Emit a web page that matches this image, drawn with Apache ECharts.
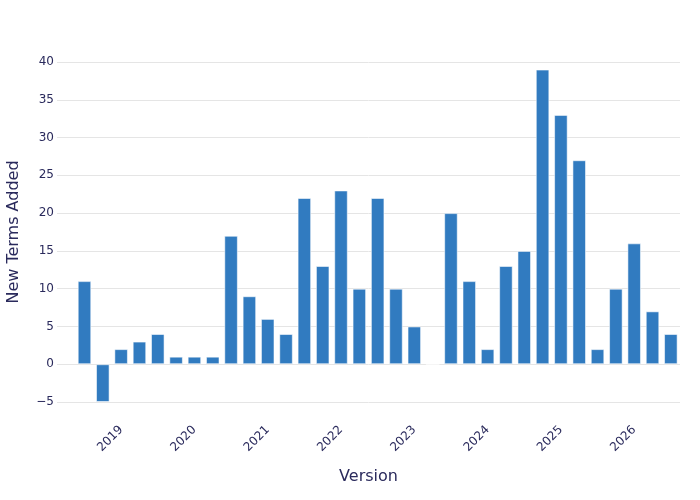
<!DOCTYPE html>
<html>
<head>
<meta charset="utf-8">
<script src="https://cdn.jsdelivr.net/npm/echarts@6/dist/echarts.min.js"></script>
<style>html,body{margin:0;padding:0;background:#fff}#c{width:700px;height:500px}</style>
</head>
<body>
<div id="c"></div>
<script>
var categories = ['2018 Q2','2018 Q3','2018 Q4',
  '2019 Q1','2019 Q2','2019 Q3','2019 Q4',
  '2020 Q1','2020 Q2','2020 Q3','2020 Q4',
  '2021 Q1','2021 Q2','2021 Q3','2021 Q4',
  '2022 Q1','2022 Q2','2022 Q3','2022 Q4',
  '2023 Q1','2023 Q2','2023 Q3','2023 Q4',
  '2024 Q1','2024 Q2','2024 Q3','2024 Q4',
  '2025 Q1','2025 Q2','2025 Q3','2025 Q4',
  '2026 Q1','2026 Q2','2026 Q3'];
var termsAdded = [null, 11, -5, 2, 3, 4, 1, 1, 1, 17, 9, 6, 4, 22, 13, 23, 10, 22, 10, 5, 0,
  20, 11, 2, 13, 15, 39, 33, 27, 2, 10, 16, 7, 4];
var yTicks = {min: -5, max: 40, step: 5};

var txt = '#2a2a5c';
var font = 'DejaVu Sans';
var chart = echarts.init(document.getElementById('c'));
chart.setOption({
  animation: false,
  textStyle: {fontFamily: font},
  grid: {left: 57, right: 20, top: 62, bottom: 98, containLabel: false, outerBoundsMode: 'none'},
  xAxis: {
    type: 'category',
    data: categories,
    name: 'Version',
    nameLocation: 'middle',
    nameGap: 67,
    nameTextStyle: {fontSize: 16, color: txt, fontFamily: font},
    axisLine: {show: false, onZero: false},
    axisTick: {show: false},
    splitLine: {show: false},
    axisLabel: {
      rotate: 45,
      margin: 26,
      fontSize: 12,
      color: txt,
      fontFamily: font,
      interval: function (i, v) { return /Q1$/.test(v); },
      formatter: function (v) { return v.slice(0, 4); }
    }
  },
  yAxis: {
    type: 'value',
    min: yTicks.min,
    max: yTicks.max,
    interval: yTicks.step,
    name: 'New Terms Added',
    nameLocation: 'middle',
    nameGap: 35,
    nameTextStyle: {fontSize: 16, color: txt, fontFamily: font},
    axisLine: {show: false},
    axisTick: {show: false},
    axisLabel: {
      margin: 3,
      fontSize: 12,
      color: txt,
      fontFamily: font,
      formatter: function (v) { return v < 0 ? '\u2212' + Math.abs(v) : String(v); }
    },
    splitLine: {lineStyle: {color: '#e5e5e5', width: 1}}
  },
  series: [{
    type: 'bar',
    data: termsAdded,
    barCategoryGap: '26%',
    itemStyle: {color: '#317bc0', borderColor: 'rgba(255,255,255,0.55)', borderWidth: 1}
  }]
});
</script>
</body>
</html>
